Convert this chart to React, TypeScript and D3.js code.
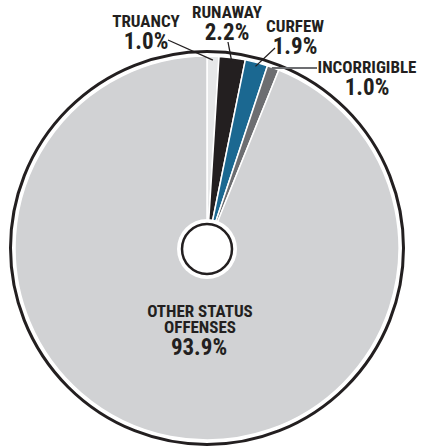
import React from 'react'
import * as d3 from 'd3'

const categories = ['TRUANCY', 'RUNAWAY', 'CURFEW', 'INCORRIGIBLE', 'OTHER STATUS OFFENSES']
const values = [1.0, 2.2, 1.9, 1.0, 93.9]
const colors = ['#e6e7e8', '#231f20', '#1b6891', '#6d6e71', '#d1d2d4']

// label anchor (name baseline) and leader end, relative to pie center
const labelPos = [
    { x: -61, y: -221, lx: -39, ly: -208 },
    { x: 20, y: -230, lx: 21, ly: -206 },
    { x: 88, y: -216, lx: 68, ly: -200 },
    { x: 160, y: -175, lx: 110, ly: -180 },
]

const width = 423
const height = 446
const cx = 207
const cy = 248
const radius = 192
const font = "'Roboto Condensed', 'Liberation Sans Narrow', Roboto, sans-serif"

export default function App() {
    const pie = d3
        .pie<number>()
        .sort(null)
        .startAngle(0)
        .endAngle(2 * Math.PI)
        .value((d) => d)
    const arcs = pie(values)
    const arc = d3.arc<d3.PieArcDatum<number>>().innerRadius(0).outerRadius(radius)
    const lineArc = d3.arc<d3.PieArcDatum<number>>().innerRadius(188).outerRadius(188)

    return (
        <svg
            width={width}
            height={height}
            style={{ position: 'absolute', left: 0, top: 0 }}
            fontFamily={font}
        >
            <g transform={`translate(${cx},${cy})`}>
                {arcs.map((a, i) => (
                    <path key={i} d={arc(a) || ''} fill={colors[i]} stroke="#fff" strokeWidth={1.5} />
                ))}
                <circle r={radius + 4.5} fill="none" stroke="#231f20" strokeWidth={3} />
                <circle cy={1} r={30} fill="#fff" />
                <circle cy={1} r={25} fill="#fff" stroke="#231f20" strokeWidth={2.5} />

                {labelPos.map((p, i) => {
                    const [sx, sy] = lineArc.centroid(arcs[i])
                    const isInc = i === 3
                    return (
                        <g key={i}>
                            <line
                                x1={sx}
                                y1={isInc ? p.ly : sy}
                                x2={p.lx}
                                y2={p.ly}
                                stroke={isInc ? '#6d6e71' : '#231f20'}
                                strokeWidth={isInc ? 2 : 1.3}
                            />
                            <text
                                x={p.x}
                                y={p.y}
                                textAnchor="middle"
                                fontWeight={700}
                                fontSize={17}
                                fill="#231f20"
                            >
                                {categories[i]}
                            </text>
                            <text
                                x={p.x}
                                y={p.y + 22}
                                textAnchor="middle"
                                fontWeight={700}
                                fontSize={23}
                                fill="#231f20"
                            >
                                {values[i].toFixed(1)}%
                            </text>
                        </g>
                    )
                })}

                <text textAnchor="middle" fontWeight={700} fontSize={17} fill="#231f20">
                    <tspan x={-7} y={69}>OTHER STATUS</tspan>
                    <tspan x={-7} y={85}>OFFENSES</tspan>
                </text>
                <text x={-8} y={107} textAnchor="middle" fontWeight={700} fontSize={23} fill="#231f20">
                    {values[4].toFixed(1)}%
                </text>
            </g>
        </svg>
    )
}
